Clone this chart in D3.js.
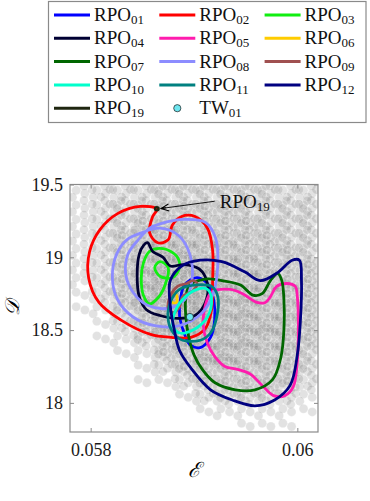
<!DOCTYPE html>
<html>
<head>
<meta charset="utf-8">
<script src="https://cdn.jsdelivr.net/npm/d3@7/dist/d3.min.js"></script>
<style>
  body { margin: 0; background: #fff; }
  svg { display: block; }
</style>
</head>
<body>
<svg id="chart" width="370" height="501" font-family="Liberation Serif"></svg>
<script>
// ---- data ----
const xTicks = [0.058, 0.06];
const xTickLabels = ["0.058", "0.06"];
const yTicks = [18, 18.5, 19, 19.5];
const yTickLabels = ["18", "18.5", "19", "19.5"];

const rpoNames = ["01", "02", "03", "04", "05", "06", "07", "08", "09", "10", "11", "12", "19"];
const rpoColors = ["#0000ff", "#ff0000", "#11ee11", "#000033", "#ff1cae", "#ffcc00", "#006600",
                   "#8c8cff", "#a05050", "#00ffcc", "#008080", "#000080", "#1f2610"];

// each orbit as [E, D] pairs
const rpo01 = [[0.05891,18.81],[0.05903,18.86],[0.05914,18.81],[0.05919,18.71],[0.05920,18.57],[0.05916,18.45],
  [0.05906,18.38],[0.05896,18.40],[0.05890,18.49],[0.05886,18.60],[0.05887,18.72]];
const rpo02 = [[0.05864,19.33],[0.05848,19.35],[0.05826,19.30],[0.05809,19.19],[0.05799,19.04],[0.05798,18.86],
  [0.05808,18.69],[0.05829,18.57],[0.05858,18.47],[0.05878,18.45],[0.05897,18.45],[0.05911,18.51],[0.05917,18.64],
  [0.05918,18.84],[0.05918,19.05],[0.05913,19.20],[0.05901,19.28],[0.05888,19.28],[0.05879,19.22],[0.05875,19.12],
  [0.05865,19.10],[0.05857,19.17],[0.05860,19.28]];
const rpo03 = [[0.05857,19.04],[0.05870,19.06],[0.05883,19.01],[0.05886,18.93],[0.05879,18.86],[0.05867,18.87],
  [0.05862,18.93],[0.05867,18.97],[0.05875,18.93],[0.05872,18.81],[0.05865,18.72],[0.05857,18.68],[0.05851,18.74],
  [0.05849,18.86],[0.05851,18.96]];
const rpo04 = [[0.05855,19.10],[0.05860,19.04],[0.05870,19.00],[0.05877,18.94],[0.05890,18.95],[0.05905,18.92],
  [0.05913,18.82],[0.05911,18.69],[0.05901,18.60],[0.05885,18.58],[0.05867,18.60],[0.05854,18.64],[0.05847,18.73],
  [0.05845,18.88],[0.05847,19.02],[0.05851,19.08]];
const rpo05 = [[0.05917,18.76],[0.05935,18.78],[0.05947,18.75],[0.05961,18.69],[0.05969,18.69],[0.05974,18.73],
  [0.05980,18.80],[0.05990,18.82],[0.05998,18.80],[0.06000,18.73],[0.06001,18.52],[0.06000,18.29],[0.05996,18.11],
  [0.05988,18.05],[0.05977,18.05],[0.05966,18.12],[0.05954,18.20],[0.05942,18.23],[0.05930,18.25],[0.05920,18.32],
  [0.05913,18.41],[0.05909,18.53],[0.05911,18.67]];
const rpo06 = [[0.05879,18.76],[0.05883,18.74],[0.05883,18.69],[0.05879,18.69],[0.05877,18.72]];
const rpo07 = [[0.05896,18.81],[0.05911,18.85],[0.05927,18.84],[0.05945,18.81],[0.05957,18.74],[0.05966,18.75],
  [0.05974,18.84],[0.05981,18.89],[0.05985,18.84],[0.05987,18.71],[0.05987,18.50],[0.05984,18.31],[0.05976,18.16],
  [0.05959,18.09],[0.05940,18.09],[0.05920,18.14],[0.05908,18.23],[0.05900,18.33],[0.05895,18.45],[0.05892,18.60],
  [0.05892,18.72]];
const rpo08 = [[0.05867,19.23],[0.05891,19.26],[0.05911,19.24],[0.05921,19.13],[0.05923,18.95],[0.05919,18.76],
  [0.05908,18.62],[0.05886,18.53],[0.05862,18.53],[0.05841,18.59],[0.05826,18.71],[0.05821,18.86],[0.05825,19.02],
  [0.05835,19.12],[0.05850,19.17],[0.05867,19.20],[0.05885,19.15],[0.05896,19.02],[0.05898,18.84],[0.05891,18.71],
  [0.05875,18.65],[0.05855,18.67],[0.05841,18.76],[0.05834,18.88],[0.05836,19.02],[0.05846,19.12],[0.05857,19.20]];
const rpo09 = [[0.05877,18.73],[0.05884,18.80],[0.05893,18.82],[0.05899,18.84],[0.05903,18.82],[0.05899,18.77],
  [0.05889,18.73],[0.05886,18.66],[0.05880,18.62],[0.05875,18.65]];
const rpo10 = [[0.05880,18.59],[0.05889,18.71],[0.05903,18.78],[0.05913,18.78],[0.05917,18.71],[0.05913,18.59],
  [0.05899,18.50],[0.05886,18.48],[0.05880,18.52]];
const rpo11 = [[0.05877,18.69],[0.05886,18.78],[0.05903,18.81],[0.05917,18.80],[0.05923,18.73],[0.05922,18.59],
  [0.05916,18.48],[0.05906,18.43],[0.05889,18.43],[0.05880,18.48],[0.05875,18.57]];
const rpo12 = [[0.05877,18.84],[0.05888,18.94],[0.05906,18.98],[0.05927,18.97],[0.05949,18.90],[0.05964,18.84],
  [0.05980,18.89],[0.05995,18.98],[0.06002,18.98],[0.06004,18.84],[0.06003,18.57],[0.06000,18.33],[0.05993,18.12],
  [0.05978,18.02],[0.05959,17.98],[0.05937,18.02],[0.05916,18.09],[0.05898,18.23],[0.05886,18.36],[0.05881,18.50],
  [0.05877,18.67]];
const rpo19 = [[0.05863,19.339],[0.05865,19.339],[0.05865,19.328],[0.05863,19.328]];
const rpoData = [rpo01, rpo02, rpo03, rpo04, rpo05, rpo06, rpo07, rpo08, rpo09, rpo10, rpo11, rpo12, rpo19];

const tw01 = [0.05896, 18.59];

// annotation: label position, arrow tail and head
const noteText = [0.05925, 19.34];
const noteTail = [0.05920, 19.385];
const noteHead = [0.05868, 19.335];

// gray sample cloud: density of points per cell (rows top -> bottom)
const cloudE = [0.0578, 0.0580, 0.0582, 0.0584, 0.0586, 0.0588, 0.0590, 0.0592, 0.0594, 0.0596, 0.0598, 0.0600];
const cloudD = [19.4, 19.3, 19.2, 19.1, 19.0, 18.9, 18.8, 18.7, 18.6, 18.5, 18.4, 18.3, 18.2, 18.1, 18.0, 17.9, 17.8];
const cloudDensity = [
  [2,3,3,3,4,4,4,4,4,4,3,3],
  [2,3,4,4,5,5,5,5,4,4,4,4],
  [2,3,4,5,5,5,5,5,5,4,4,4],
  [2,3,5,6,6,6,5,5,5,5,4,4],
  [2,3,5,6,7,7,6,6,5,5,5,4],
  [2,3,5,7,7,7,7,6,6,5,5,5],
  [2,3,5,7,8,8,7,7,6,6,5,5],
  [1,3,5,7,8,8,8,7,7,6,6,5],
  [1,2,4,6,7,8,8,7,7,6,6,5],
  [0,1,3,5,7,8,8,7,7,7,6,5],
  [0,1,2,4,6,7,7,7,7,6,6,5],
  [0,0,1,2,5,6,7,7,6,6,6,4],
  [0,0,0,1,3,5,6,6,6,6,5,4],
  [0,0,0,1,1,3,5,5,5,5,5,3],
  [0,0,0,0,0,1,3,4,4,4,3,2],
  [0,0,0,0,0,0,1,2,2,2,2,1],
  [0,0,0,0,0,0,0,0,1,1,1,0]
];
const cellE = 0.0002, cellD = 0.1;
// fixed placement pattern inside a cell (fractions), filled in this order
const cellPattern = [[0.3,0.4],[0.72,0.62],[0.68,0.1],[0.12,0.88],[0.5,0.85],[0.92,0.35],[0.08,0.35],
  [0.48,0.12],[0.28,0.65],[0.9,0.9],[0.52,0.5],[0.12,0.12],[0.9,0.12],[0.3,0.9],[0.7,0.88],
  [0.5,0.32],[0.1,0.62],[0.92,0.62],[0.3,0.15],[0.72,0.38]];

// ---- chart ----
const svg = d3.select("#chart");
const margin = { top: 184.5, right: 52, bottom: 69, left: 70 },
  width = 370 - margin.left - margin.right,
  height = 501 - margin.top - margin.bottom;

const x = d3.scaleLinear().domain([0.0578, 0.0602]).range([0, width]);
const y = d3.scaleLinear().domain([17.8, 19.5]).range([height, 0]);

const defs = svg.append("defs");
defs.append("clipPath").attr("id", "plotclip")
  .append("rect").attr("width", width).attr("height", height);
defs.append("marker")
  .attr("id", "arrowhead")
  .attr("viewBox", "-10 -5 12 10")
  .attr("refX", 0).attr("refY", 0)
  .attr("markerUnits", "userSpaceOnUse")
  .attr("markerWidth", 12).attr("markerHeight", 10)
  .attr("orient", "auto")
  .append("path")
  .attr("d", "M-8,-3.5 L0,0 L-8,3.5 M0,0 L-5,0")
  .attr("fill", "none").attr("stroke", "#000").attr("stroke-width", 1);

const g = svg.append("g").attr("transform", `translate(${margin.left},${margin.top})`);

// cloud
const cloudPts = [];
cloudDensity.forEach((row, r) => {
  row.forEach((dens, c) => {
    const n = Math.min(cellPattern.length, Math.round(dens * 2.2));
    for (let k = 0; k < n; k++) {
      const p = cellPattern[k];
      cloudPts.push([cloudE[c] + p[0] * cellE, cloudD[r] + (1 - p[1]) * cellD]);
    }
  });
});
g.append("g").attr("clip-path", "url(#plotclip)")
  .selectAll("circle")
  .data(cloudPts)
  .join("circle")
  .attr("cx", d => x(d[0]))
  .attr("cy", d => y(d[1]))
  .attr("r", 4.5)
  .attr("fill", "#666")
  .attr("fill-opacity", 0.19)
  .attr("stroke", "#fff")
  .attr("stroke-opacity", 0.3)
  .attr("stroke-width", 0.8);

// orbits
const line = d3.line()
  .x(d => x(d[0]))
  .y(d => y(d[1]))
  .curve(d3.curveCatmullRomClosed.alpha(0.5));

g.append("g").attr("clip-path", "url(#plotclip)")
  .selectAll("path")
  .data(rpoData)
  .join("path")
  .attr("d", d => line(d))
  .attr("fill", "none")
  .attr("stroke", (d, i) => rpoColors[i])
  .attr("stroke-width", (d, i) => rpoNames[i] === "19" ? 3.5 : 2.8)
  .attr("stroke-linejoin", "round");

// TW01
g.append("circle")
  .attr("cx", x(tw01[0])).attr("cy", y(tw01[1]))
  .attr("r", 3.6)
  .attr("fill", "#6ee6f0").attr("stroke", "#1a1a1a").attr("stroke-width", 0.7);

// annotation
g.append("line")
  .attr("x1", x(noteTail[0])).attr("y1", y(noteTail[1]))
  .attr("x2", x(noteHead[0])).attr("y2", y(noteHead[1]))
  .attr("stroke", "#000").attr("stroke-width", 0.9)
  .attr("marker-end", "url(#arrowhead)");
const note = g.append("text")
  .attr("x", x(noteText[0])).attr("y", y(noteText[1]))
  .attr("font-family", "Liberation Serif")
  .attr("font-size", 19).attr("fill", "#111");
note.append("tspan").text("RPO");
note.append("tspan").attr("font-size", 13).attr("dy", 3).text("19");

// axes (ticks inward, mirrored on top/right)
const axisColor = "#8a8a8a";
function styleAxis(sel) {
  sel.attr("font-family", "Liberation Serif");
  sel.select(".domain").remove();
  sel.selectAll(".tick line").attr("stroke", axisColor).attr("stroke-width", 1);
  sel.selectAll(".tick text").attr("fill", "#1a1a1a").attr("font-size", 18);
}
g.append("g").attr("transform", `translate(0,${height})`)
  .call(d3.axisBottom(x).tickValues(xTicks).tickFormat((d, i) => xTickLabels[i]).tickSize(-4).tickPadding(11))
  .call(styleAxis);
g.append("g")
  .call(d3.axisTop(x).tickValues(xTicks).tickFormat("").tickSize(-4))
  .call(styleAxis);
g.append("g")
  .call(d3.axisLeft(y).tickValues(yTicks).tickFormat((d, i) => yTickLabels[i]).tickSize(-4).tickPadding(7))
  .call(styleAxis);
g.append("g").attr("transform", `translate(${width},0)`)
  .call(d3.axisRight(y).tickValues(yTicks).tickFormat("").tickSize(-4))
  .call(styleAxis);
g.append("rect")
  .attr("width", width).attr("height", height)
  .attr("fill", "none").attr("stroke", axisColor).attr("stroke-width", 1.2);

// axis labels
g.append("text")
  .attr("x", width / 2).attr("y", height + 45)
  .attr("font-family", "Liberation Serif")
  .attr("text-anchor", "middle").attr("font-size", 21).attr("font-style", "italic")
  .text("ℰ");
g.append("text")
  .attr("transform", `translate(-51,${height / 2}) rotate(-90)`)
  .attr("font-family", "Liberation Serif")
  .attr("text-anchor", "middle").attr("font-size", 20).attr("font-style", "italic")
  .text("𝒟");

// legend
const legendItems = rpoNames.map((n, i) => ({ name: n, color: rpoColors[i], type: "line" }))
  .concat([{ name: "TW01", color: "#6ee6f0", type: "dot" }]);
const legend = svg.append("g").attr("transform", "translate(48.5,1.5)");
legend.append("rect")
  .attr("width", 317.5).attr("height", 121)
  .attr("fill", "#fff").attr("stroke", "#8a8a8a").attr("stroke-width", 1.2);
const colStep = 105.3, rowStep = 23.3;
const items = legend.selectAll("g.item")
  .data(legendItems)
  .join("g")
  .attr("class", "item")
  .attr("transform", (d, i) => `translate(${5.5 + (i % 3) * colStep},${13.5 + Math.floor(i / 3) * rowStep})`);
items.filter(d => d.type === "line").append("line")
  .attr("x1", 0).attr("x2", 36).attr("y1", 0).attr("y2", 0)
  .attr("stroke", d => d.color).attr("stroke-width", 3);
items.filter(d => d.type === "dot").append("circle")
  .attr("cx", 18).attr("cy", 0).attr("r", 3.6)
  .attr("fill", d => d.color).attr("stroke", "#1a1a1a").attr("stroke-width", 0.7);
const lt = items.append("text")
  .attr("x", 40).attr("y", 6)
  .attr("font-family", "Liberation Serif")
  .attr("font-size", 19).attr("fill", "#111");
lt.append("tspan").text(d => d.type === "dot" ? "TW" : "RPO");
lt.append("tspan").attr("font-size", 13).attr("dy", 3)
  .text(d => d.type === "dot" ? "01" : d.name);
</script>
</body>
</html>
